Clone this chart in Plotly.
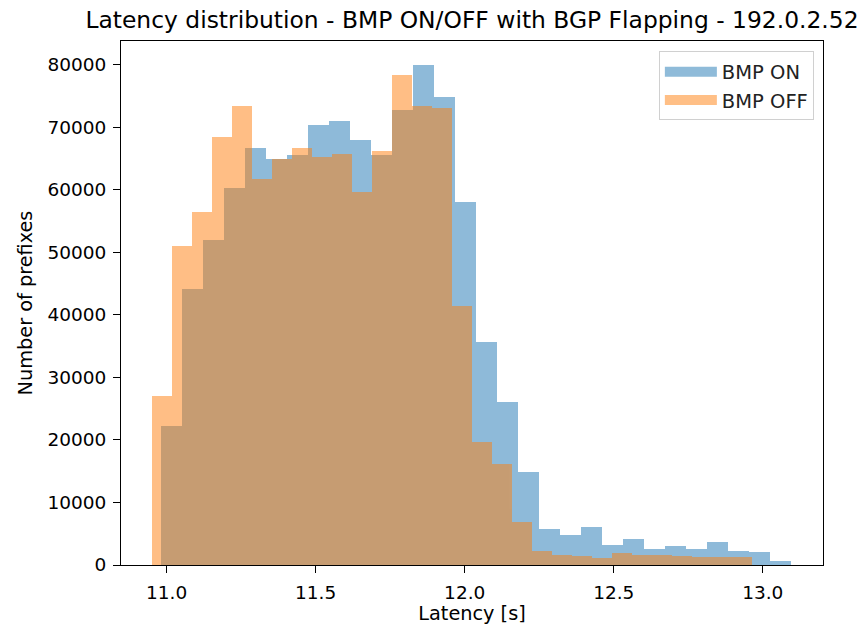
import numpy as np
import plotly.graph_objects as go

# Histogram bin ranges (30 equal bins each)
on_range = (10.980, 13.093)
off_range = (10.952, 12.964)
n_bins = 30

# Counts per bin
bmp_on_counts = [22200, 44200, 51900, 60300, 66700, 65000, 65500, 70300, 71000, 67900,
                 65500, 72800, 79900, 74800, 58000, 35600, 26100, 14800, 5700, 4800,
                 6100, 3200, 4100, 2500, 3000, 2500, 3600, 2300, 2000, 700]
bmp_off_counts = [27000, 51000, 56400, 68400, 73400, 61700, 64900, 66700, 65300, 65800,
                  59600, 66200, 78300, 73400, 73100, 41500, 19700, 16100, 6800, 2300,
                  1600, 1440, 1170, 1860, 1600, 1600, 1440, 1330, 1330, 1330]

series_names = ["BMP ON", "BMP OFF"]
x_ticks = [11.0, 11.5, 12.0, 12.5, 13.0]
y_ticks = [0, 10000, 20000, 30000, 40000, 50000, 60000, 70000, 80000]

C_ON = "#1f77b4"
C_OFF = "#ff7f0e"
FONT = "DejaVu Sans"


def bins(rng, counts):
    edges = np.linspace(rng[0], rng[1], n_bins + 1)
    centers = (edges[:-1] + edges[1:]) / 2
    width = edges[1] - edges[0]
    return centers, width, counts


fig = go.Figure()
for rng, counts, name, col in [(on_range, bmp_on_counts, series_names[0], C_ON),
                               (off_range, bmp_off_counts, series_names[1], C_OFF)]:
    c, w, v = bins(rng, counts)
    fig.add_trace(go.Bar(x=c, y=v, width=w, name=name, marker=dict(color=col, line=dict(width=0)),
                         opacity=0.5, showlegend=False))
    # legend proxy (wide patch like matplotlib)
    fig.add_trace(go.Scatter(x=[None], y=[None], mode="lines", name=name,
                             line=dict(color=col, width=14), opacity=0.5))

fig.update_layout(
    width=863, height=625,
    barmode="overlay", bargap=0,
    plot_bgcolor="white", paper_bgcolor="white",
    margin=dict(l=121, r=40, t=41, b=60, autoexpand=False),
    font=dict(family=FONT, size=18.5, color="black"),
    title=dict(text="Latency distribution - BMP ON/OFF with BGP Flapping - 192.0.2.52",
               x=0.5, xref="paper", xanchor="center",
               y=1 - 20 / 625, yref="container", yanchor="middle",
               font=dict(family=FONT, size=23.4, color="black")),
    legend=dict(x=0.987, xanchor="right", y=0.98, yanchor="top",
                bordercolor="#d0d0d0", borderwidth=1, bgcolor="rgba(255,255,255,0.8)",
                font=dict(family=FONT, size=19.5, color="#222"),
                itemwidth=52, tracegroupgap=0),
    xaxis=dict(range=[10.847, 13.202], tickvals=x_ticks, tickformat=".1f",
               showline=True, linecolor="black", linewidth=1.1, mirror=True,
               ticks="outside", ticklen=7, tickwidth=1.1, tickcolor="black",
               ticklabelstandoff=4, automargin=False,
               showgrid=False, zeroline=False,
               title=dict(text="Latency [s]", standoff=2, font=dict(size=19.3))),
    yaxis=dict(range=[0, 83800], tickvals=y_ticks, tickformat="d",
               showline=True, linecolor="black", linewidth=1.1, mirror=True,
               ticks="outside", ticklen=7, tickwidth=1.1, tickcolor="black",
               ticklabelstandoff=3, automargin=False,
               showgrid=False, zeroline=False,
               title=dict(text="Number of prefixes", standoff=9, font=dict(size=19.3))),
)

fig.write_html("out.html")
